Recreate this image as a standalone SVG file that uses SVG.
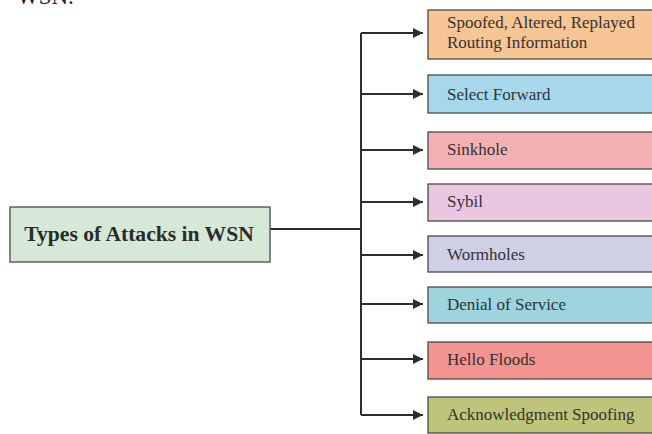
<svg xmlns="http://www.w3.org/2000/svg" width="652" height="434" viewBox="0 0 652 434">
<style>
.box{stroke:#4a4a4a;stroke-width:1.3}
.lbl{font-family:"Liberation Serif","Times New Roman",serif;font-size:17px;fill:#333}
.main{font-family:"Liberation Serif","Times New Roman",serif;font-size:21.6px;font-weight:bold;fill:#2b2b2b}
.con{stroke:#2e2e2e;stroke-width:2;fill:none}
</style>
<defs>
<marker id="ah" markerWidth="10" markerHeight="10" refX="10" refY="5" orient="auto" markerUnits="userSpaceOnUse">
<path d="M0,0 L10,5 L0,10 Z" fill="#2e2e2e"/>
</marker>
</defs>
<rect width="652" height="434" fill="#fff"/>
<text x="17" y="4" font-family="Liberation Serif, serif" font-size="23" fill="#222">WSN.</text>
<g id="connectors">
<path class="con" d="M270,229 H361"/>
<path class="con" d="M361,33 V415"/>
<path class="con" d="M361,33 H423" marker-end="url(#ah)"/>
<path class="con" d="M361,94 H423" marker-end="url(#ah)"/>
<path class="con" d="M361,150 H423" marker-end="url(#ah)"/>
<path class="con" d="M361,202 H423" marker-end="url(#ah)"/>
<path class="con" d="M361,255 H423" marker-end="url(#ah)"/>
<path class="con" d="M361,304 H423" marker-end="url(#ah)"/>
<path class="con" d="M361,359 H423" marker-end="url(#ah)"/>
<path class="con" d="M361,415 H423" marker-end="url(#ah)"/>
</g>
<g id="main"><rect class="box" x="10" y="207" width="260" height="55" fill="#d5e9d6"/><text class="main" x="139" y="241" text-anchor="middle">Types of Attacks in WSN</text></g>
<g id="n1"><rect class="box" x="428" y="10" width="230" height="49" fill="#f8c594"/><text class="lbl" x="447" y="28">Spoofed, Altered, Replayed</text><text class="lbl" x="447" y="48">Routing Information</text></g>
<g id="n2"><rect class="box" x="428" y="75" width="230" height="38" fill="#a6d7ea"/><text class="lbl" x="447" y="100">Select Forward</text></g>
<g id="n3"><rect class="box" x="428" y="132" width="230" height="37" fill="#f3b1b4"/><text class="lbl" x="447" y="155">Sinkhole</text></g>
<g id="n4"><rect class="box" x="428" y="184" width="230" height="37" fill="#e9c6e1"/><text class="lbl" x="447" y="207">Sybil</text></g>
<g id="n5"><rect class="box" x="428" y="236" width="230" height="36" fill="#cfcfe6"/><text class="lbl" x="447" y="260">Wormholes</text></g>
<g id="n6"><rect class="box" x="428" y="287" width="230" height="36" fill="#9dd4dd"/><text class="lbl" x="447" y="310">Denial of Service</text></g>
<g id="n7"><rect class="box" x="428" y="342" width="230" height="37" fill="#f19492"/><text class="lbl" x="447" y="365">Hello Floods</text></g>
<g id="n8"><rect class="box" x="428" y="397" width="230" height="36" fill="#bec57a"/><text class="lbl" x="447" y="420">Acknowledgment Spoofing</text></g>
</svg>
